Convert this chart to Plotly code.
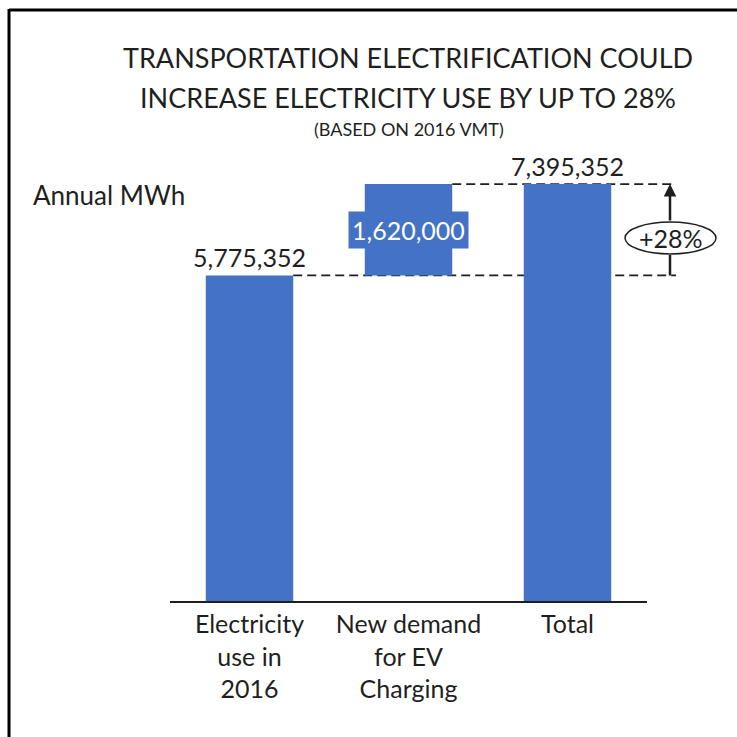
import plotly.graph_objects as go

# ---- data ----
categories = ["Electricity<br>use in<br>2016", "New demand<br>for EV<br>Charging", "Total"]
base_use = 5775352
ev_demand = 1620000
total_use = base_use + ev_demand
bar_values = [base_use, ev_demand, total_use]
bar_bases = [0, base_use, 0]
label_texts = [f"{base_use:,}", "", f"{total_use:,}"]
ev_label = f"{ev_demand:,}"
pct_label = f"+{round(ev_demand / base_use * 100)}%"

# ---- layout geometry (screen pixels) ----
SCREEN = 737
L, R, T, B = 170, 647, 150, 601
FONT = "Lato"
BLUE = "#4472C4"
INK = "#1f1f1f"
BAR_W = 0.55


def px_x(p):
    return (p - L) / (R - L)


def px_y(p):
    return (B - p) / (B - T)


def cat_edge_paper(i, side):
    return (i + 0.5 + side * BAR_W / 2) / len(categories)


fig = go.Figure()
fig.add_trace(go.Bar(
    x=categories, y=bar_values, base=bar_bases,
    marker=dict(color=BLUE, line=dict(width=0)),
    width=BAR_W,
    text=label_texts, textposition="outside",
    textfont=dict(family=FONT, size=25, color=INK),
    constraintext="none", cliponaxis=False,
    hoverinfo="skip",
))

shapes = []
dash = dict(color=INK, width=1.8, dash="9px,5px")
shapes.append(dict(type="line", xref="paper", yref="y", layer="below",
                   x0=cat_edge_paper(0, 1), x1=px_x(676), y0=base_use, y1=base_use, line=dash))
shapes.append(dict(type="line", xref="paper", yref="y", layer="below",
                   x0=cat_edge_paper(1, 1), x1=px_x(676), y0=total_use, y1=total_use, line=dash))
shapes.append(dict(type="circle", xref="paper", yref="paper",
                   x0=px_x(625), x1=px_x(716), y0=px_y(254), y1=px_y(222),
                   line=dict(color=INK, width=1.5), fillcolor="white"))
# frame border (top and left)
shapes.append(dict(type="line", xref="paper", yref="paper",
                   x0=px_x(9), x1=px_x(745), y0=px_y(10), y1=px_y(10),
                   line=dict(color="black", width=3)))
shapes.append(dict(type="line", xref="paper", yref="paper",
                   x0=px_x(9), x1=px_x(9), y0=px_y(9), y1=px_y(745),
                   line=dict(color="black", width=3)))

annotations = [
    dict(text="TRANSPORTATION ELECTRIFICATION COULD", xref="paper", yref="paper",
         x=px_x(408), y=px_y(58), showarrow=False, xanchor="center", yanchor="middle",
         font=dict(family=FONT, size=27, color=INK)),
    dict(text="INCREASE ELECTRICITY USE BY UP TO 28%", xref="paper", yref="paper",
         x=px_x(408), y=px_y(97), showarrow=False, xanchor="center", yanchor="middle",
         font=dict(family=FONT, size=27, color=INK)),
    dict(text="(BASED ON 2016 VMT)", xref="paper", yref="paper",
         x=px_x(409), y=px_y(129), showarrow=False, xanchor="center", yanchor="middle",
         font=dict(family=FONT, size=18, color=INK)),
    dict(text="Annual MWh", xref="paper", yref="paper",
         x=px_x(31), y=px_y(195), showarrow=False, xanchor="left", yanchor="middle",
         font=dict(family=FONT, size=26, color=INK)),
    dict(text=ev_label, x=categories[1], y=base_use + ev_demand / 2, xref="x", yref="y",
         showarrow=False, bgcolor=BLUE, borderpad=3,
         font=dict(family=FONT, size=25, color="white")),
    dict(text="", xref="paper", yref="y", x=px_x(670), y=total_use,
         axref="pixel", ayref="pixel", ax=0, ay=38, showarrow=True,
         arrowhead=2, arrowsize=1.0, arrowwidth=2.5, arrowcolor=INK, standoff=0),
    dict(text="", xref="paper", yref="y", x=px_x(670), y=base_use,
         axref="pixel", ayref="pixel", ax=0, ay=-22, showarrow=True,
         arrowhead=0, arrowwidth=2.5, arrowcolor=INK, standoff=0),
    dict(text=pct_label, xref="paper", yref="paper",
         x=px_x(670.5), y=px_y(238), showarrow=False, xanchor="center", yanchor="middle",
         font=dict(family=FONT, size=25, color=INK)),
]

fig.update_layout(
    width=SCREEN, height=SCREEN,
    margin=dict(l=L, r=SCREEN - R, t=T, b=SCREEN - B, pad=0),
    paper_bgcolor="white", plot_bgcolor="rgba(0,0,0,0)",
    showlegend=False,
    xaxis=dict(showline=True, linecolor=INK, linewidth=2, ticks="",
               tickfont=dict(family=FONT, size=25, color=INK), showgrid=False,
               range=[-0.5, 2.5], fixedrange=True),
    yaxis=dict(visible=False, range=[0, 8.0e6], showgrid=False, zeroline=False),
    shapes=shapes, annotations=annotations,
)

fig.write_html(
    "out.html",
    config={"displayModeBar": False},
    post_script="document.body.style.margin='0';document.documentElement.style.overflow='hidden';",
)
